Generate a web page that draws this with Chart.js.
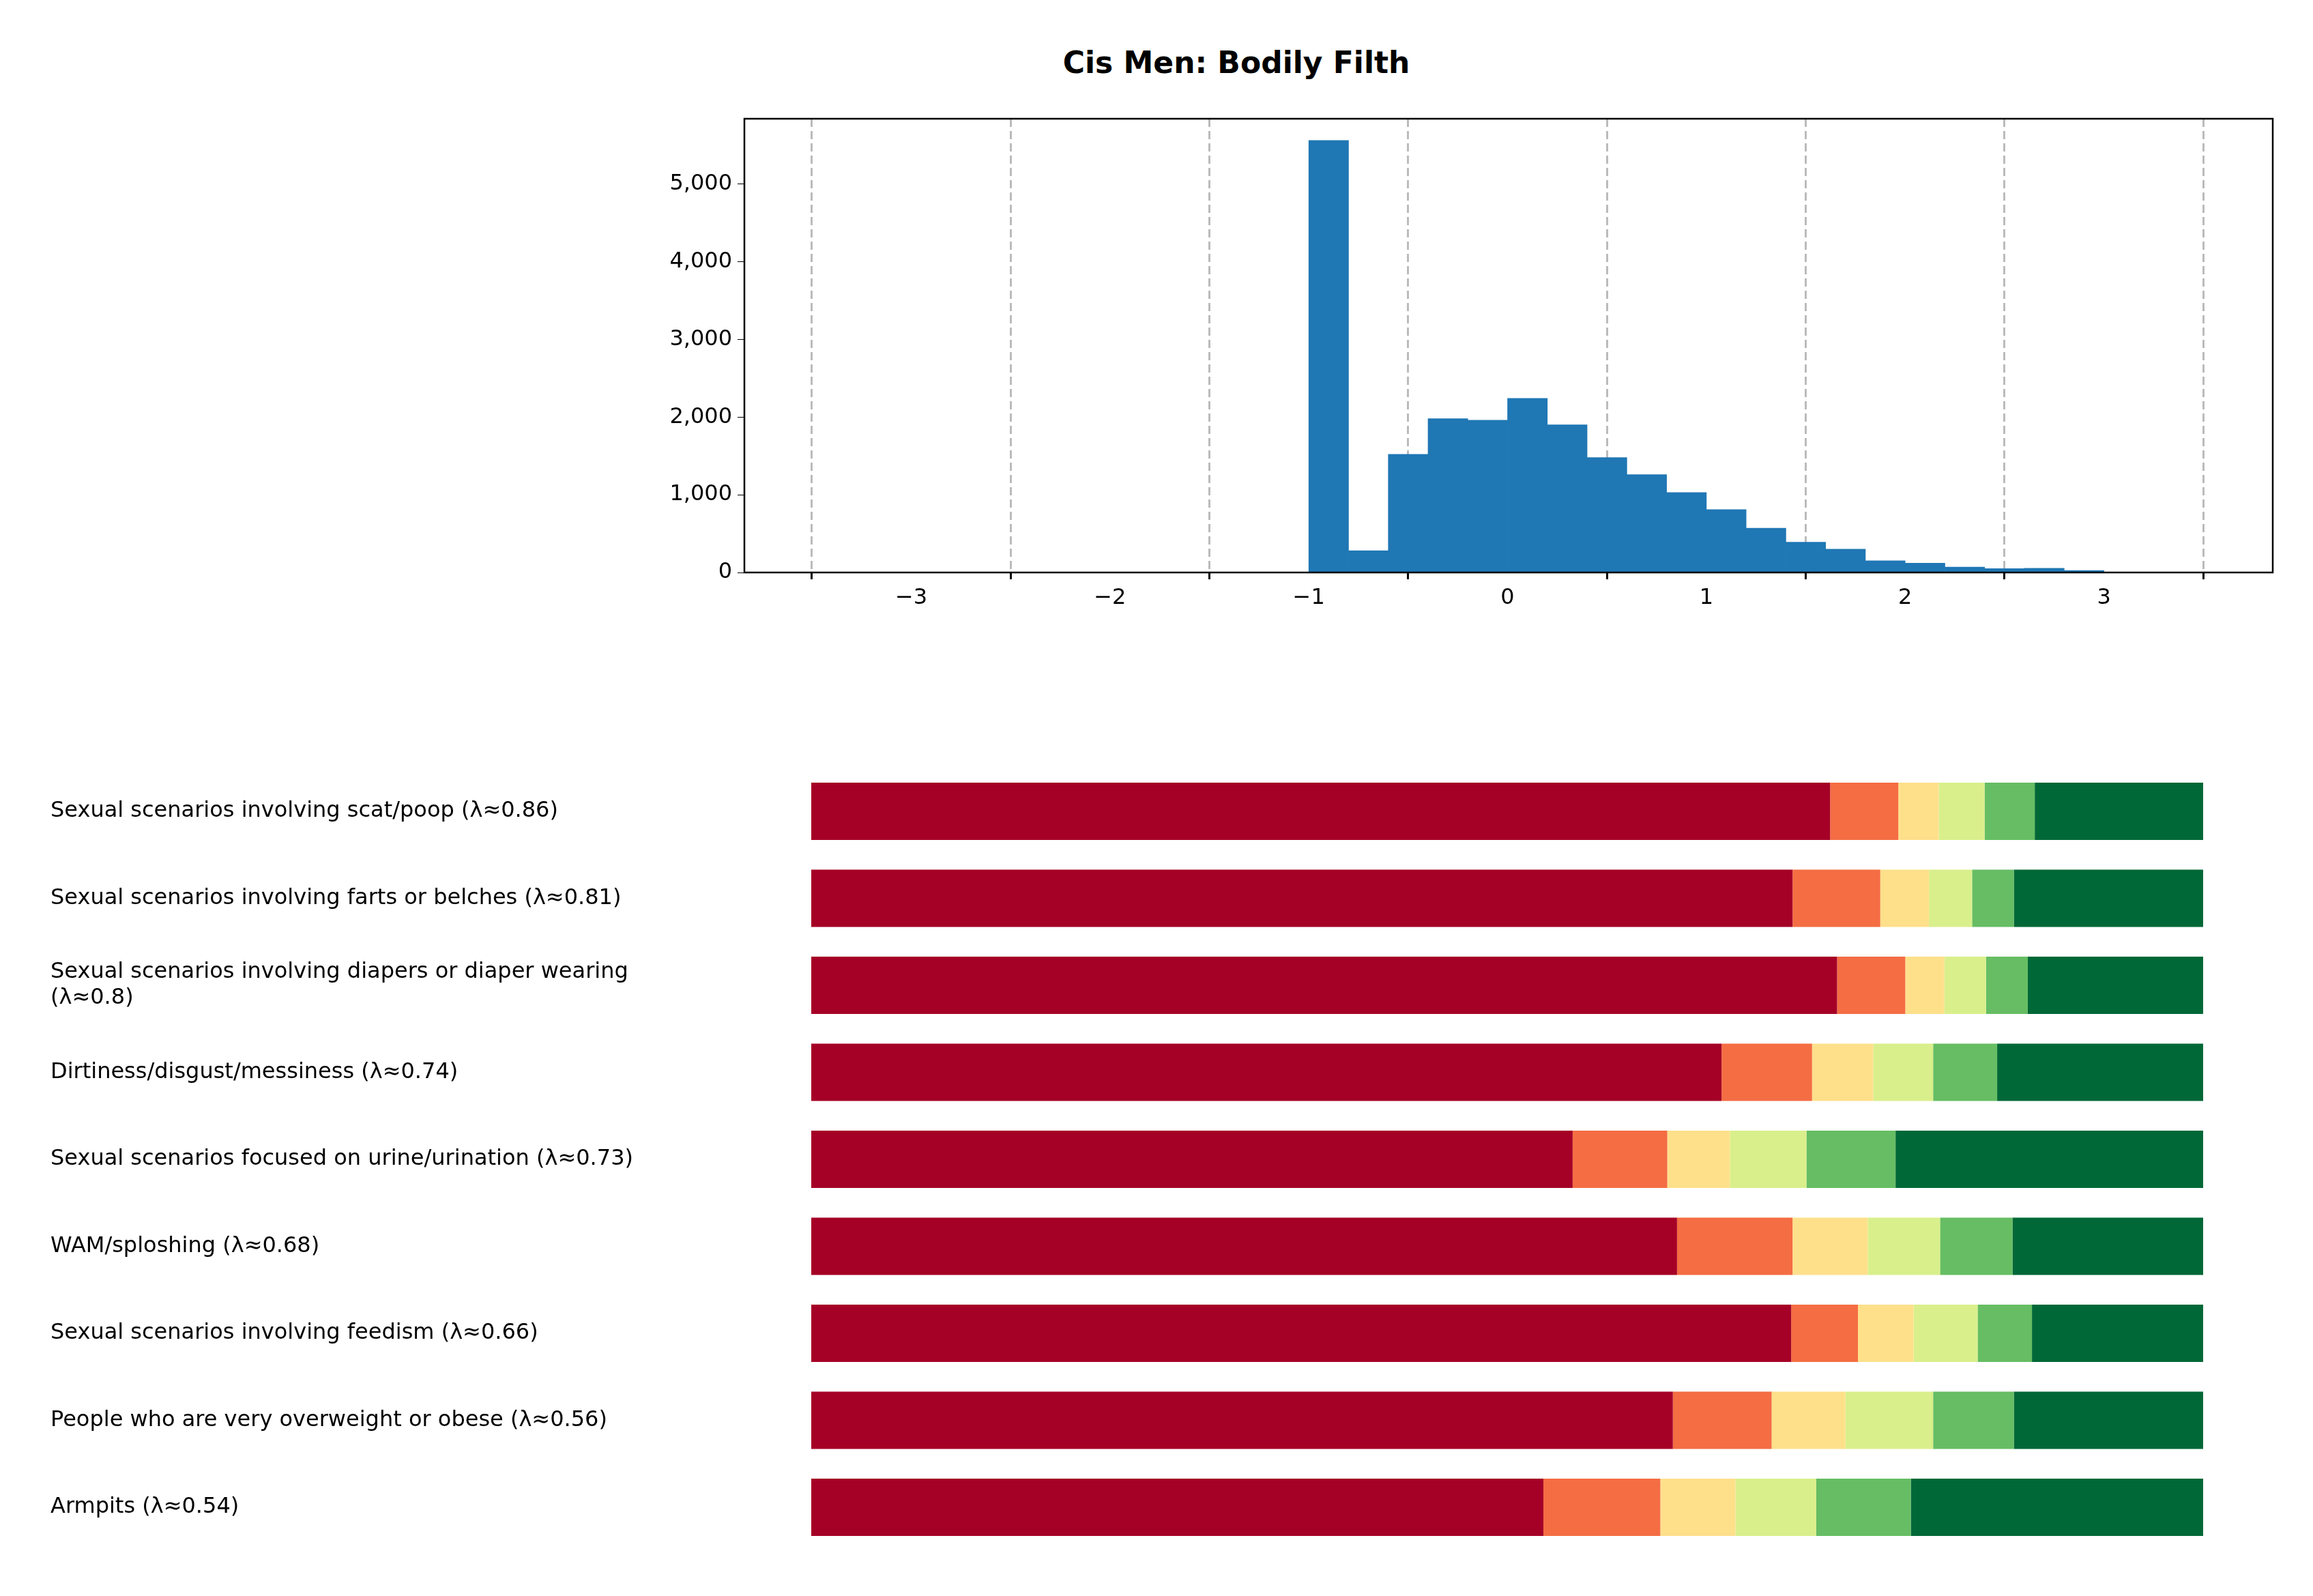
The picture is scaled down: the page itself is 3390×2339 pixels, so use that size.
<!DOCTYPE html>
<html>
<head>
<meta charset="utf-8">
<script src="https://cdn.jsdelivr.net/npm/chart.js@4"></script>
<style>
  body { margin: 0; background: #fff; width: 3390px; height: 2339px; position: relative; overflow: hidden; font-family: "DejaVu Sans", sans-serif; }
  #title { position: absolute; top: 66px; left: 1312px; width: 1000px; text-align: center; font-size: 44px; font-weight: bold; }
  #hist-wrap { position: absolute; left: 0; top: 0; width: 3390px; height: 1000px; }
  #bars-wrap { position: absolute; left: 0; top: 1103px; width: 3390px; height: 1192px; }
</style>
</head>
<body>
<div id="title">Cis Men: Bodily Filth</div>
<div id="hist-wrap"><canvas id="hist"></canvas></div>
<div id="bars-wrap"><canvas id="bars"></canvas></div>
<script>
// histogram, bins of width 0.2 from -1 to 3
const binStarts = [-1, -0.8, -0.6, -0.4, -0.2, 0, 0.2, 0.4, 0.6, 0.8, 1.0, 1.2, 1.4, 1.6, 1.8, 2.0, 2.2, 2.4, 2.6, 2.8];
const binCounts = [5560, 280, 1520, 1980, 1960, 2240, 1900, 1480, 1260, 1030, 810, 570, 390, 300, 150, 120, 70, 50, 55, 25];
const xTicks = [-3, -2, -1, 0, 1, 2, 3];

const items = [
    'Sexual scenarios involving scat/poop (λ≈0.86)',
    'Sexual scenarios involving farts or belches (λ≈0.81)',
    ['Sexual scenarios involving diapers or diaper wearing', '(λ≈0.8)'],
    'Dirtiness/disgust/messiness (λ≈0.74)',
    'Sexual scenarios focused on urine/urination (λ≈0.73)',
    'WAM/sploshing (λ≈0.68)',
    'Sexual scenarios involving feedism (λ≈0.66)',
    'People who are very overweight or obese (λ≈0.56)',
    'Armpits (λ≈0.54)'
];
const level1 = [73.2, 70.5, 73.7, 65.4, 54.7, 62.2, 70.4, 61.9, 52.6];
const level2 = [4.9, 6.3, 4.9, 6.5, 6.8, 8.3, 4.8, 7.1, 8.4];
const level3 = [2.9, 3.5, 2.8, 4.4, 4.5, 5.4, 4.0, 5.3, 5.4];
const level4 = [3.3, 3.1, 3.0, 4.3, 5.5, 5.2, 4.6, 6.3, 5.8];
const level5 = [3.6, 3.0, 3.0, 4.6, 6.4, 5.2, 3.9, 5.8, 6.8];
const level6 = [12.1, 13.6, 12.6, 14.8, 22.1, 13.7, 12.3, 13.6, 21.1];
const levelColors = ['#a50026', '#f46d43', '#fee08b', '#d9ef8b', '#66bd63', '#006837'];

Chart.defaults.font.family = '"DejaVu Sans", sans-serif';
Chart.defaults.font.size = 32;
Chart.defaults.color = '#000';
Chart.defaults.animation = false;

const frame = {
    id: 'frame',
    afterDraw(chart) {
        const a = chart.chartArea, ctx = chart.ctx;
        ctx.save();
        ctx.strokeStyle = '#000';
        ctx.lineWidth = 2.5;
        ctx.strokeRect(a.left, a.top, a.right - a.left, a.bottom - a.top);
        ctx.restore();
    }
};

new Chart(document.getElementById('hist'), {
    type: 'bar',
    data: {
        datasets: [{
            data: binStarts.map((s, i) => ({ x: s + 0.1, y: binCounts[i] })),
            backgroundColor: '#1f77b4',
            barPercentage: 1,
            categoryPercentage: 1,
            borderWidth: 0
        }]
    },
    options: {
        responsive: true,
        maintainAspectRatio: false,
        layout: { padding: { left: 941, right: 59, top: 174, bottom: 0 } },
        plugins: { legend: { display: false }, tooltip: { enabled: false } },
        scales: {
            x: {
                type: 'linear',
                min: -3.29, max: 3.3,
                afterBuildTicks: ax => { ax.ticks = xTicks.map(v => ({ value: v })); },
                afterFit: ax => { ax.height = 161; },
                ticks: { callback: v => String(v).replace('-', '\u2212'), padding: 8 },
                grid: { color: '#bbbbbb', lineWidth: 3, tickColor: '#000', tickLength: 10 },
                border: { dash: [12, 6], display: false }
            },
            y: {
                min: 0, max: 5840,
                afterBuildTicks: ax => { ax.ticks = [0, 1000, 2000, 3000, 4000, 5000].map(v => ({ value: v })); },
                afterFit: ax => { ax.width = 150; },
                ticks: { padding: 8 },
                grid: { drawOnChartArea: false, tickColor: '#000', tickLength: 10 },
                border: { display: false }
            }
        }
    },
    plugins: [frame]
});

const levels = [level1, level2, level3, level4, level5, level6];
new Chart(document.getElementById('bars'), {
    type: 'bar',
    data: {
        labels: items,
        datasets: levels.map((d, i) => ({
            data: d,
            backgroundColor: levelColors[i],
            barPercentage: 0.66,
            categoryPercentage: 1,
            borderWidth: 0
        }))
    },
    options: {
        indexAxis: 'y',
        responsive: true,
        maintainAspectRatio: false,
        layout: { padding: { left: 74, right: 161, top: 0, bottom: 0 } },
        plugins: { legend: { display: false }, tooltip: { enabled: false } },
        scales: {
            x: { stacked: true, min: 0, max: 100, display: false },
            y: {
                stacked: true,
                afterFit: ax => { ax.width = 1115; },
                ticks: { crossAlign: 'far', font: { size: 32 } },
                grid: { display: false },
                border: { display: false }
            }
        }
    }
});
</script>
</body>
</html>
